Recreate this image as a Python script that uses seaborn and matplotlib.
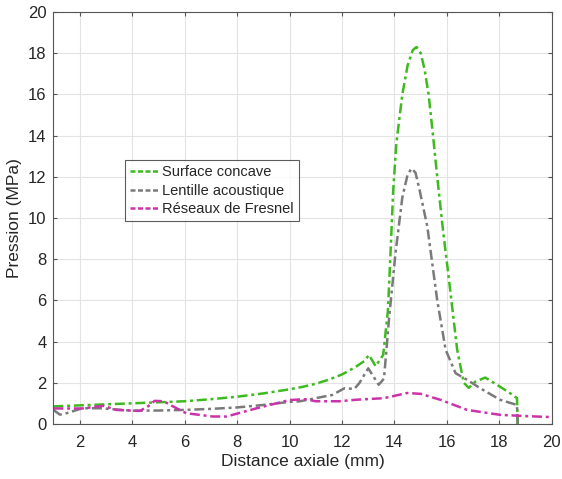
import numpy as np
import pandas as pd
import matplotlib
matplotlib.use("Agg")
import matplotlib.pyplot as plt
import seaborn as sns

# Courbes de pression (x en mm, p en MPa)
x_concave = [1.0, 2.0, 3.0, 4.0, 5.0, 6.0, 7.0, 8.0, 9.0, 10.0, 10.5, 11.0, 11.5, 12.0,
             12.5, 12.85, 13.03, 13.28, 13.57, 13.75, 13.86, 13.95, 14.07, 14.3, 14.5,
             14.7, 14.84, 15.0, 15.15, 15.3, 15.47, 15.63, 15.85, 16.05, 16.39, 16.64,
             16.83, 17.08, 17.46, 18.03, 18.4, 18.67, 18.7]
p_concave = [0.85, 0.9, 0.95, 1.0, 1.05, 1.1, 1.2, 1.32, 1.48, 1.68, 1.8, 1.95, 2.15, 2.4,
             2.75, 3.05, 3.35, 2.8, 3.35, 5.5, 8.6, 11.3, 13.6, 16.0, 17.4,
             18.15, 18.3, 18.0, 17.2, 16.0, 14.0, 12.0, 9.4, 7.3, 3.6, 2.0,
             1.75, 2.05, 2.25, 1.8, 1.5, 1.25, -0.2]

x_lentille = [1.0, 1.25, 1.5, 2.1, 2.8, 4.0, 5.0, 6.0, 7.0, 8.0, 9.0, 10.0, 10.4, 11.0, 11.64,
              12.09, 12.47, 12.66, 13.0, 13.2, 13.4, 13.6, 13.8, 14.04, 14.3, 14.5, 14.65,
              14.8, 14.95, 15.25, 15.63, 15.95, 16.33, 16.77, 17.27, 18.03, 18.67, 18.7]
p_lentille = [0.68, 0.45, 0.52, 0.76, 0.76, 0.64, 0.65, 0.68, 0.73, 0.8, 0.92, 1.07, 1.1, 1.25, 1.41,
              1.73, 1.7, 1.98, 2.7, 2.3, 1.9, 2.2, 5.2, 8.3, 11.0, 12.1, 12.4,
              12.2, 11.4, 9.6, 6.0, 3.6, 2.46, 2.14, 1.73, 1.17, 0.92, -0.2]

x_fresnel = [1.0, 2.1, 2.9, 3.4, 4.3, 4.6, 4.86, 5.2, 5.56, 6.06, 7.07, 7.6, 8.72, 10.0,
             10.6, 11.0, 11.9, 12.5, 13.6, 14.48, 15.0, 15.75, 16.77, 18.03, 19.0, 20.0]
p_fresnel = [0.75, 0.75, 0.88, 0.68, 0.63, 0.85, 1.12, 1.1, 0.85, 0.52, 0.36, 0.36, 0.75, 1.16,
             1.2, 1.1, 1.1, 1.17, 1.25, 1.5, 1.46, 1.17, 0.68, 0.44, 0.38, 0.33]

labels = ["Surface concave", "Lentille acoustique", "Réseaux de Fresnel"]
couleurs = ["#3dbb1e", "#7a7a7a", "#cc33aa"]

df = pd.concat([
    pd.DataFrame({"x": x_concave, "p": p_concave, "serie": labels[0]}),
    pd.DataFrame({"x": x_lentille, "p": p_lentille, "serie": labels[1]}),
    pd.DataFrame({"x": x_fresnel, "p": p_fresnel, "serie": labels[2]}),
])

sns.set_style("whitegrid")
plt.rcParams["font.family"] = ["Liberation Sans", "DejaVu Sans"]

fig = plt.figure(figsize=(5.62, 4.79), dpi=100)
ax = fig.add_axes([0.095, 0.115, 0.887, 0.86])

sns.lineplot(data=df, x="x", y="p", hue="serie", palette=couleurs,
             sort=False, estimator=None, linewidth=1.8, ax=ax)
for ln in ax.lines:
    ln.set_linestyle((0, (4, 1.5, 1.2, 1.5)))

ax.set_xlim(1, 20)
ax.set_ylim(0, 20)
ax.set_xticks(np.arange(2, 21, 2))
ax.set_yticks(np.arange(0, 21, 2))
ax.tick_params(labelsize=12, direction="in", length=3, width=0.8, color="#555555",
               top=True, right=True, bottom=True, left=True)
ax.tick_params(axis="x", pad=8)
ax.tick_params(axis="y", pad=5)
ax.set_xlabel("Distance axiale (mm)", fontsize=12.5, labelpad=3)
ax.set_ylabel("Pression (MPa)", fontsize=12.5)
ax.grid(color="#e3e3e3", linewidth=0.8)
for s in ax.spines.values():
    s.set_color("#555555")
    s.set_linewidth(0.8)

leg = ax.legend(loc="upper left", bbox_to_anchor=(0.143, 0.64), fontsize=10.5,
                frameon=True, fancybox=False, handlelength=2.0, handletextpad=0.2,
                borderpad=0.35, labelspacing=0.3, borderaxespad=0)
leg.get_frame().set_edgecolor("#333333")
leg.get_frame().set_linewidth(0.8)
for h in leg.get_lines():
    h.set_linestyle((0, (2, 1)))

fig.savefig("out.png", dpi=100)
